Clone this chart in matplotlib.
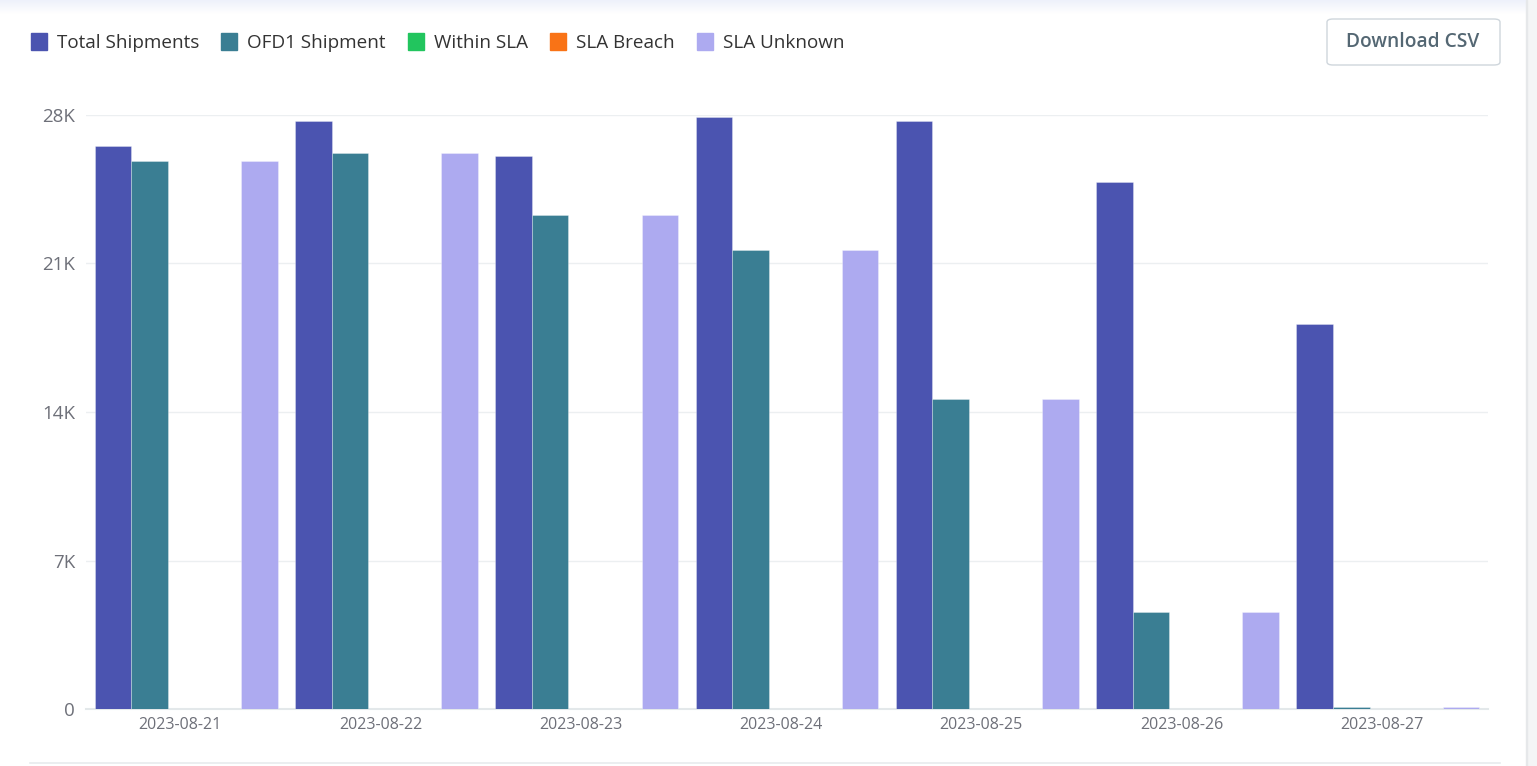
import matplotlib.pyplot as plt
import matplotlib.transforms as mtransforms
import numpy as np
from matplotlib.patches import Rectangle, FancyBboxPatch
from matplotlib.ticker import FuncFormatter

plt.rcParams['font.family'] = ['Open Sans', 'DejaVu Sans']

# data
dates = ['2023-08-21', '2023-08-22', '2023-08-23', '2023-08-24',
         '2023-08-25', '2023-08-26', '2023-08-27']
series = ['Total Shipments', 'OFD1 Shipment', 'Within SLA', 'SLA Breach', 'SLA Unknown']
total = [26540, 27720, 26070, 27910, 27720, 24840, 18150]
ofd1 = [25830, 26210, 23290, 21640, 14610, 4570, 90]
within_sla = [0, 0, 0, 0, 0, 0, 0]
sla_breach = [0, 0, 0, 0, 0, 0, 0]
sla_unknown = [25830, 26210, 23290, 21640, 14610, 4570, 90]
colors = ['#4b54b0', '#3a7e93', '#22c55e', '#f97316', '#adaaf0']
legend_x = [31, 221, 408, 550, 697]

values = [total, ofd1, within_sla, sla_breach, sla_unknown]

fig = plt.figure(figsize=(15.37, 7.66), dpi=100)
W, H = 1537, 766

# page background details
grad = fig.add_axes([0, 1 - 14 / H, 1, 14 / H])
g = np.linspace(0, 1, 50).reshape(-1, 1)
grad.imshow(g, aspect='auto', cmap=plt.matplotlib.colors.LinearSegmentedColormap.from_list('g', ['#eef1fb', '#ffffff']),
            extent=[0, 1, 0, 1])
grad.axis('off')
fig.patches.append(Rectangle((1527 / W, 0), 10 / W, 1, transform=fig.transFigure, color='#f4f5f6', zorder=0))
fig.patches.append(Rectangle((1526 / W, 0), 1.2 / W, 1, transform=fig.transFigure, color='#e6e8ea', zorder=0))
fig.lines.append(plt.Line2D([30 / W, 1500 / W], [1 - 763 / H] * 2, transform=fig.transFigure, color='#e8ebee', lw=1.2))

ax = fig.add_axes([86 / W, 1 - 709 / H, (1488 - 86) / W, (709 - 115) / H])
x = np.arange(len(dates))
w = 36.5 / 200
for j, (name, vals, c) in enumerate(zip(series, values, colors)):
    ax.bar(x + (j - 2) * w, vals, width=w, color=c, edgecolor=(1, 1, 1, 0.35), linewidth=0.6, zorder=3)

ax.set_xlim(-0.5, len(dates) - 0.5)
ax.set_ylim(0, 28000)
ax.set_yticks([0, 7000, 14000, 21000, 28000])
ax.yaxis.set_major_formatter(FuncFormatter(lambda v, p: '0' if v == 0 else f'{int(v / 1000)}K'))
ax.set_xticks(x)
ax.set_xticklabels(dates)
ax.grid(axis='y', color='#eceff1', lw=1, zorder=0)
for s in ['top', 'right', 'left']:
    ax.spines[s].set_visible(False)
ax.spines['bottom'].set_color('#e3e8ea')
ax.spines['bottom'].set_linewidth(1.5)
ax.tick_params(axis='y', length=0, pad=8, labelsize=13.5, labelcolor='#6e7079')
ax.tick_params(axis='x', length=0, pad=6, labelsize=11.5, labelcolor='#6e7079')
shift = mtransforms.ScaledTranslation(-6 / 100, 0, fig.dpi_scale_trans)
for lab in ax.get_xticklabels():
    lab.set_transform(lab.get_transform() + shift)

# legend
for lx, name, c in zip(legend_x, series, colors):
    fig.patches.append(Rectangle((lx / W, 1 - 50 / H), 16 / W, 17 / H, transform=fig.transFigure, color=c))
    fig.text((lx + 26) / W, 1 - 43 / H, name, fontsize=13.6, color='#333333', va='center', ha='left')

# download button
fig.patches.append(FancyBboxPatch((1327 / W, 1 - 65 / H), 173 / W, 46 / H, transform=fig.transFigure,
                                  boxstyle='round,pad=0,rounding_size=0.004', facecolor='white',
                                  edgecolor='#cfd6dc', lw=1))
fig.text(1413 / W, 1 - 42 / H, 'Download CSV', fontsize=13.8, color='#546773', weight='semibold',
         ha='center', va='center')

fig.savefig('out.png', dpi=100, facecolor='white')
